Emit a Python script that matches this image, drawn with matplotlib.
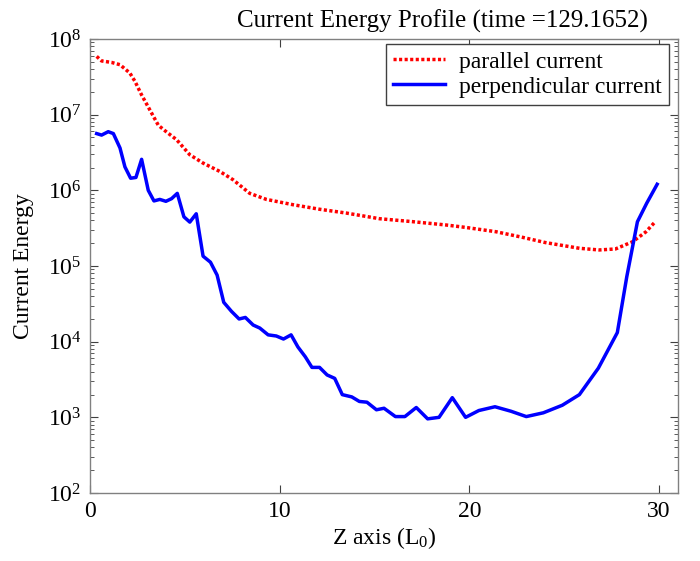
import numpy as np
import matplotlib
matplotlib.use('Agg')
import matplotlib.pyplot as plt
import matplotlib.ticker as mticker

plt.rcParams['font.family'] = ['Liberation Serif', 'DejaVu Serif']
plt.rcParams['mathtext.fontset'] = 'custom'
plt.rcParams['mathtext.rm'] = 'Liberation Serif'
plt.rcParams['mathtext.it'] = 'Liberation Serif:italic'

# parallel current (red dotted)
z_par = [0.35, 0.61, 1.14, 1.58, 2.1, 2.37, 2.72, 3.16, 3.6, 4.04, 4.56, 5.26, 5.96,
         6.84, 7.54, 8.42, 9.3, 10.7, 12.1, 13.5, 15.26, 17.0, 18.77, 19.8, 21.4,
         22.8, 24.0, 25.8, 26.84, 27.7, 28.6, 29.3, 29.8]
log_par = [7.77, 7.71, 7.69, 7.66, 7.55, 7.44, 7.26, 7.06, 6.86, 6.77, 6.67, 6.47, 6.36,
           6.25, 6.14, 5.96, 5.88, 5.81, 5.75, 5.70, 5.625, 5.586, 5.542, 5.51, 5.453,
           5.379, 5.31, 5.234, 5.212, 5.225, 5.32, 5.45, 5.585]

# perpendicular current (blue solid)
z_perp = [0.35, 0.61, 0.96, 1.23, 1.58, 1.84, 2.14, 2.42, 2.72, 3.07, 3.37, 3.68, 4.0,
          4.3, 4.6, 4.95, 5.26, 5.6, 5.96, 6.35, 6.7, 7.05, 7.46, 7.86, 8.19, 8.6,
          8.95, 9.39, 9.82, 10.2, 10.6, 10.96, 11.35, 11.7, 12.1, 12.5, 12.9, 13.3,
          13.8, 14.2, 14.6, 15.1, 15.5, 16.1, 16.6, 17.2, 17.8, 18.4, 19.1, 19.8,
          20.5, 21.35, 22.2, 23.0, 23.9, 24.9, 25.8, 26.8, 27.8, 28.3, 28.86, 29.35, 29.9]
log_perp = [6.75, 6.73, 6.775, 6.75, 6.56, 6.31, 6.16, 6.17, 6.41, 6.00, 5.86, 5.88, 5.855,
            5.89, 5.96, 5.65, 5.58, 5.69, 5.13, 5.05, 4.88, 4.52, 4.40, 4.30, 4.32, 4.22,
            4.18, 4.09, 4.075, 4.035, 4.09, 3.93, 3.80, 3.66, 3.66, 3.56, 3.515, 3.30,
            3.27, 3.21, 3.20, 3.10, 3.12, 3.01, 3.01, 3.13, 2.98, 3.00, 3.26, 3.00,
            3.09, 3.14, 3.08, 3.01, 3.06, 3.16, 3.30, 3.65, 4.12, 4.86, 5.585, 5.83, 6.08]

par = 10 ** np.array(log_par)
perp = 10 ** np.array(log_perp)

fig = plt.figure(figsize=(7, 5.61), dpi=100)
ax = fig.add_axes([0.1286, 0.1212, 0.8400, 0.8093])

ax.plot(z_par, par, color='#ff0000', linestyle=(0, (0.9, 0.7)), linewidth=2.5,
        label='parallel current')
ax.plot(z_perp, perp, color='#0000ff', linestyle='-', linewidth=2.5, label='perpendicular current')

ax.set_yscale('log')
ax.set_xlim(0, 31)
ax.set_ylim(1e2, 1e8)
ax.set_xticks([0, 10, 20, 30])
ax.yaxis.set_major_locator(mticker.LogLocator(base=10, numticks=10))
ax.yaxis.set_minor_locator(mticker.LogLocator(base=10, subs=np.arange(2, 10), numticks=20))
ax.yaxis.set_minor_formatter(mticker.NullFormatter())

for s in ax.spines.values():
    s.set_color('#808080')
    s.set_linewidth(1.0)
ax.tick_params(which='both', direction='in', top=True, right=True, color='#404040',
               labelsize=17, pad=6)
ax.tick_params(which='major', length=6)
ax.tick_params(which='minor', length=3)

ax.set_title('Current Energy Profile (time =129.1652)', fontsize=18, pad=8, x=0.6)
ax.set_xlabel('Z axis (L$_0$)', fontsize=17, labelpad=2)
ax.set_ylabel('Current Energy', fontsize=17, labelpad=10)

leg = ax.legend(loc='upper right', bbox_to_anchor=(0.985, 0.989), borderaxespad=0,
                fontsize=17, fancybox=False, framealpha=1, edgecolor='#404040',
                handlelength=2.2, borderpad=0.3, labelspacing=0.15, handletextpad=0.6)
leg.get_frame().set_linewidth(1.0)

fig.savefig('out.png', dpi=100)
